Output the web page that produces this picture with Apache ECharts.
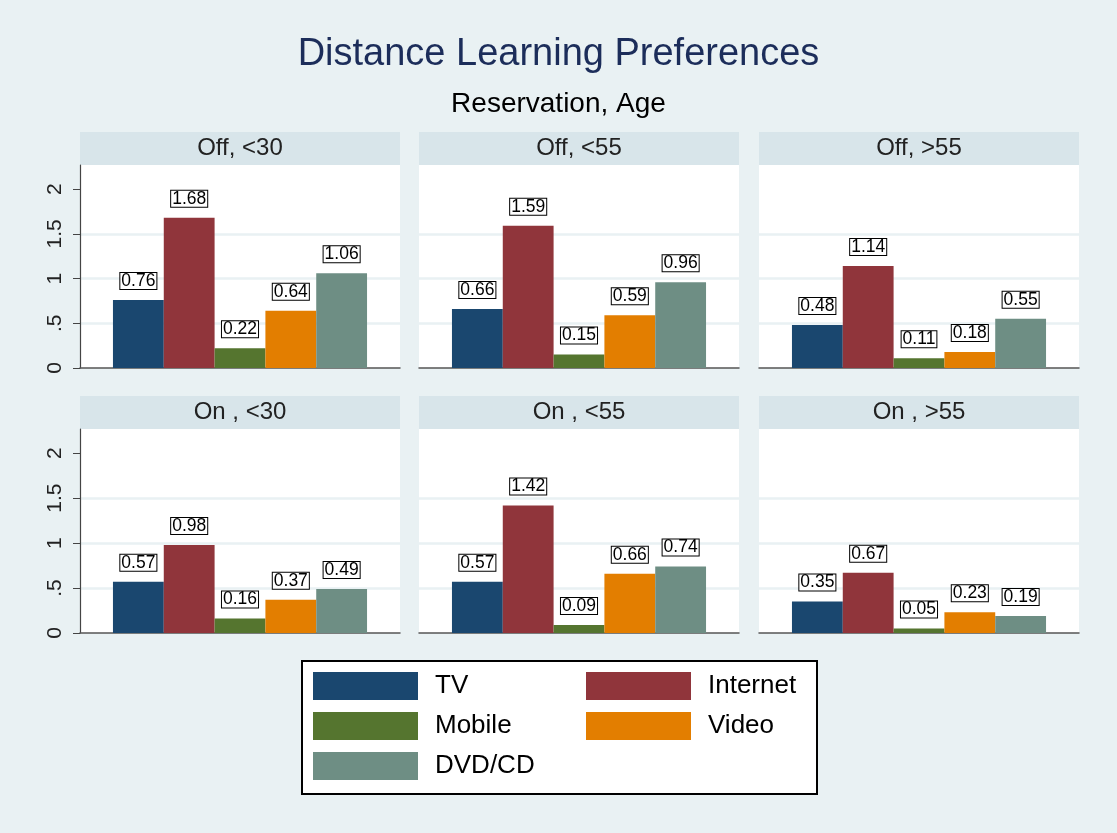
<!DOCTYPE html>
<html>
<head>
<meta charset="utf-8">
<style>
  html, body { margin: 0; padding: 0; background: #e9f1f3; }
  #chart { width: 1117px; height: 833px; }
</style>
<script src="https://cdn.jsdelivr.net/npm/echarts@6/dist/echarts.min.js"></script>
</head>
<body>
<div id="chart"></div>
<script>
// panels: Reservation x Age
var panels = ['Off, <30', 'Off, <55', 'Off, >55', 'On , <30', 'On , <55', 'On , >55']
var media = ['TV', 'Internet', 'Mobile', 'Video', 'DVD/CD']
var tv = [0.76, 0.66, 0.48, 0.57, 0.57, 0.35]
var internet = [1.68, 1.59, 1.14, 0.98, 1.42, 0.67]
var mobile = [0.22, 0.15, 0.11, 0.16, 0.09, 0.05]
var video = [0.64, 0.59, 0.18, 0.37, 0.66, 0.23]
var dvd = [1.06, 0.96, 0.55, 0.49, 0.74, 0.19]
var yTicks = [0, 0.5, 1, 1.5, 2]

var values = [tv, internet, mobile, video, dvd]
var colors = ['#1a476f', '#90353b', '#55752f', '#e37e00', '#6e8e84']

var font = 'Liberation Sans, Arial, sans-serif'
var bg = '#e9f1f3'
var stripColor = '#d8e5ea'
var gridColor = '#e9f1f3'

// layout
var colLeft = [80, 419, 759]
var panelW = 320
var rowTop = [165, 429]
var rowH = [203, 204]
var stripH = 33

var chart = echarts.init(document.getElementById('chart'))

var grids = [], xAxes = [], yAxes = [], series = [], graphics = []

panels.forEach(function (name, p) {
  var col = p % 3
  var row = Math.floor(p / 3)
  grids.push({
    left: colLeft[col],
    top: rowTop[row],
    width: panelW,
    height: rowH[row],
    show: true,
    backgroundColor: '#fff',
    borderWidth: 0
  })
  xAxes.push({
    gridIndex: p,
    type: 'category',
    data: [''],
    axisLine: { lineStyle: { color: '#555', width: 1.5 } },
    axisTick: { show: false },
    axisLabel: { show: false }
  })
  yAxes.push({
    gridIndex: p,
    type: 'value',
    min: 0,
    max: 2.27,
    interval: 0.5,
    axisLine: { show: col === 0, lineStyle: { color: '#444', width: 1.2 } },
    axisTick: { show: col === 0, length: 7, customValues: yTicks, lineStyle: { color: '#444' } },
    axisLabel: {
      show: col === 0,
      customValues: yTicks,
      rotate: 90,
      margin: 14,
      fontSize: 21,
      fontFamily: font,
      color: '#222',
      formatter: function (v) { return v === 0 ? '0' : String(v).replace(/^0\./, '.') }
    },
    splitLine: {
      show: true,
      lineStyle: { color: ['rgba(0,0,0,0)', gridColor, gridColor, gridColor, 'rgba(0,0,0,0)', 'rgba(0,0,0,0)'], width: 2.5 }
    }
  })
  media.forEach(function (m, k) {
    series.push({
      name: m,
      type: 'bar',
      xAxisIndex: p,
      yAxisIndex: p,
      data: [values[k][p]],
      barGap: '0%',
      barCategoryGap: '20.6%',
      itemStyle: { color: colors[k] },
      label: {
        show: true,
        position: 'top',
        distance: 11,
        formatter: function (d) { return d.value.toFixed(2) },
        fontSize: 17.5,
        fontFamily: font,
        color: '#000',
        lineHeight: 16,
        backgroundColor: '#fff',
        borderColor: '#000',
        borderWidth: 1,
        padding: [0, 1, 0, 1]
      }
    })
  })
  // panel header strip
  graphics.push({
    type: 'rect',
    left: colLeft[col],
    top: rowTop[row] - stripH,
    shape: { width: panelW, height: stripH },
    style: { fill: stripColor },
    z: 0
  })
  graphics.push({
    type: 'text',
    x: colLeft[col] + panelW / 2,
    y: rowTop[row] - stripH / 2,
    style: {
      text: name,
      fill: '#222',
      font: '24px ' + font,
      textAlign: 'center',
      textVerticalAlign: 'middle'
    },
    z: 1
  })
})

// legend box
graphics.push({
  type: 'rect',
  left: 301,
  top: 660,
  shape: { width: 515, height: 133 },
  style: { fill: '#fff', stroke: '#000', lineWidth: 2 },
  z: 0
})

var legendBase = {
  orient: 'vertical',
  icon: 'rect',
  padding: 0,
  itemWidth: 105,
  itemHeight: 28,
  itemGap: 12,
  z: 5,
  textStyle: {
    fontSize: 26,
    fontFamily: font,
    color: '#000',
    lineHeight: 28,
    padding: [0, 0, 0, 12]
  }
}

chart.setOption({
  backgroundColor: bg,
  animation: false,
  title: [{
    text: 'Distance Learning Preferences',
    left: 'center',
    top: 31,
    textStyle: { fontSize: 38, fontWeight: 'normal', fontFamily: font, color: '#1c2d5a' }
  }, {
    text: 'Reservation, Age',
    left: 'center',
    top: 85,
    textStyle: { fontSize: 28, fontWeight: 'normal', fontFamily: font, color: '#000' }
  }],
  legend: [
    Object.assign({}, legendBase, { left: 313, top: 672, data: ['TV', 'Mobile', 'DVD/CD'] }),
    Object.assign({}, legendBase, { left: 586, top: 672, data: ['Internet', 'Video'] })
  ],
  grid: grids,
  xAxis: xAxes,
  yAxis: yAxes,
  series: series,
  graphic: graphics
})
</script>
</body>
</html>
